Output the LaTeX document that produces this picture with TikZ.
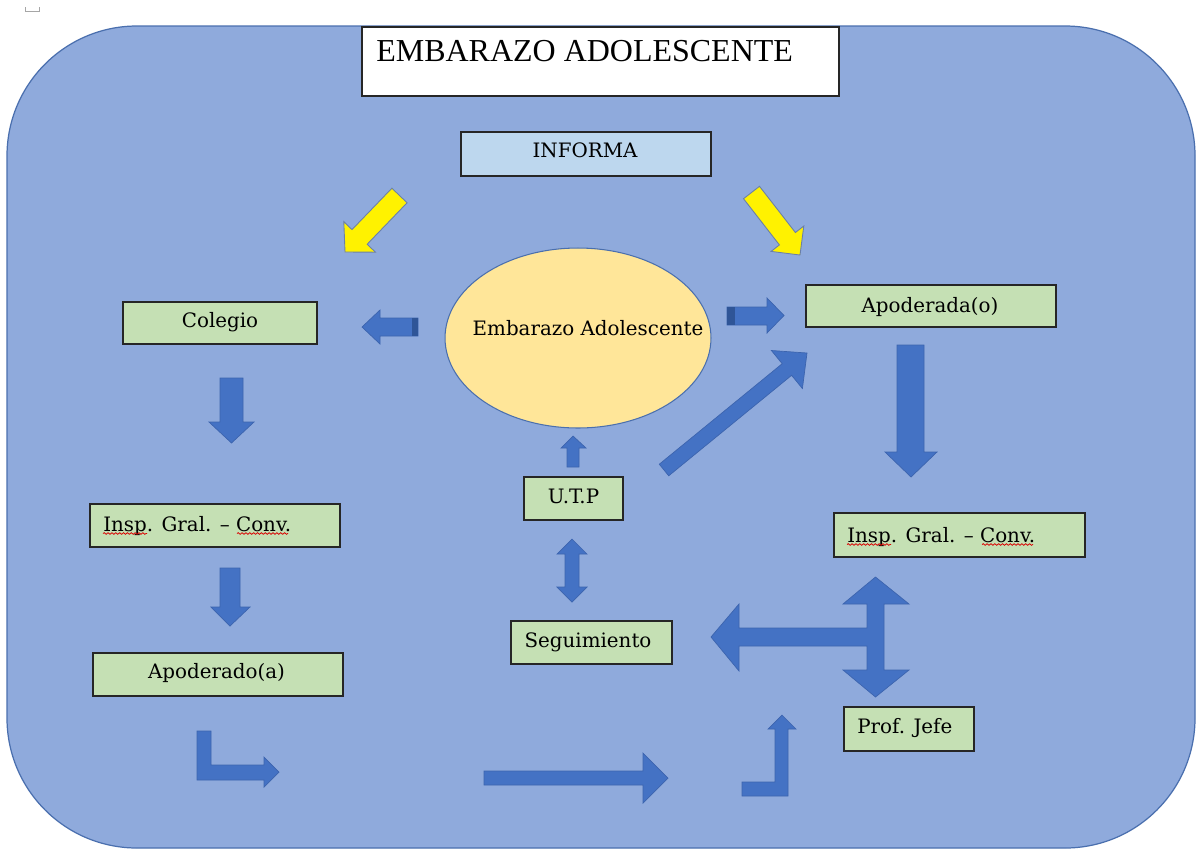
\documentclass[tikz,border=0pt]{standalone}
\usepackage{fontspec}
\setmainfont{DejaVu Serif}
\newfontfamily\titlefont{Liberation Serif}
\usetikzlibrary{decorations.pathmorphing,shapes.geometric}
\definecolor{bgfill}{HTML}{8FAADC}
\definecolor{bgline}{HTML}{4A6FAE}
\definecolor{arrowblue}{HTML}{4472C4}
\definecolor{arrowline}{HTML}{3C64AE}
\definecolor{darkband}{HTML}{2F5597}
\definecolor{boxgreen}{HTML}{C5E0B4}
\definecolor{boxblue}{HTML}{BDD7EE}
\definecolor{ellfill}{HTML}{FFE699}
\definecolor{yelline}{HTML}{6A7FA8}
\tikzset{
  box/.style={draw=black!85, line width=0.8pt, rectangle, inner sep=0pt},
  greenbox/.style={box, fill=boxgreen},
  lbl/.style={font=\fontsize{11.3}{13}\selectfont, inner sep=0pt, text=black},
  blockarrow/.style={fill=arrowblue, draw=arrowline, line width=0.4pt, line join=miter},
  yellowarrow/.style={fill=yellow, draw=yelline, line width=0.5pt},
  spell/.style={draw=red!85!black, line width=0.45pt, decorate, decoration={snake, segment length=2.2pt, amplitude=0.45pt}}
}
\begin{document}
\begin{tikzpicture}[x=0.02cm, y=-0.02cm]
\useasboundingbox (0,0) rectangle (1196,849);
\fill[white] (0,0) rectangle (1196,849);
% tiny mark at top left
\draw[gray!70, line width=0.5pt] (25,7) -- (25,11) -- (39,11) -- (39,7);
% background panel
\draw[fill=bgfill, draw=bgline, line width=0.7pt, rounded corners=2.6cm] (7,26) rectangle (1195,848);

% title
\node[box, fill=white, minimum width=9.54cm, minimum height=1.38cm] (title) at (600.5,61.5) {};
\node[anchor=base west, inner sep=0pt, font=\titlefont\fontsize{18.2}{20}\selectfont] (titletext) at (376,61) {EMBARAZO ADOLESCENTE};

% informa
\node[box, fill=boxblue, minimum width=5.0cm, minimum height=0.88cm] (informa) at (586,154) {};
\node[lbl, anchor=base] (informatext) at (585,157) {INFORMA};

% ellipse
\node[ellipse, draw=bgline, line width=0.6pt, fill=ellfill, minimum width=5.32cm, minimum height=3.6cm, inner sep=0pt] (emb) at (578,338) {};
\node[lbl, anchor=base] (embtext) at (588,335) {Embarazo Adolescente};

% green boxes
\node[greenbox, minimum width=3.88cm, minimum height=0.84cm] (colegio) at (220,323) {};
\node[lbl, anchor=base] (colegiotext) at (220,327) {Colegio};

\node[greenbox, minimum width=5.0cm, minimum height=0.84cm] (apoo) at (931,306) {};
\node[lbl, anchor=base] (apootext) at (930,312) {Apoderada(o)};

\node[greenbox, minimum width=5.0cm, minimum height=0.86cm] (inspl) at (215,525.5) {};
\node[lbl, anchor=base west] (inspltext) at (103,531) {Insp. Gral. – Conv.};
\draw[spell] (103,533.5) -- (147,533.5);
\draw[spell] (237,533.5) -- (288,533.5);

\node[greenbox, minimum width=5.0cm, minimum height=0.86cm] (apoa) at (218,674.5) {};
\node[lbl, anchor=base] (apoatext) at (216.5,678) {Apoderado(a)};

\node[greenbox, minimum width=1.98cm, minimum height=0.86cm] (utp) at (573.5,498.5) {};
\node[lbl, anchor=base] (utptext) at (573.5,503) {U.T.P};

\node[greenbox, minimum width=3.22cm, minimum height=0.86cm] (seg) at (591.5,642.5) {};
\node[lbl, anchor=base] (segtext) at (588,647) {Seguimiento};

\node[greenbox, minimum width=5.02cm, minimum height=0.88cm] (inspr) at (959.5,535) {};
\node[lbl, anchor=base west] (insprtext) at (847,542) {Insp. Gral. – Conv.};
\draw[spell] (847,544.5) -- (891,544.5);
\draw[spell] (982,544.5) -- (1033,544.5);

\node[greenbox, minimum width=2.6cm, minimum height=0.88cm] (prof) at (909,729) {};
\node[lbl, anchor=base west] (proftext) at (857,733) {Prof. Jefe};

% yellow arrows
\draw[yellowarrow] (391.9,188.2) -- (352.0,229.6) -- (343.8,221.6) -- (345,252) -- (375.4,252.2) -- (367.2,244.2) -- (407.1,202.8) -- cycle;
\draw[yellowarrow] (759.5,186.3) -- (795.4,232.5) -- (803.8,226.0) -- (800,255) -- (771.1,251.4) -- (779.4,244.9) -- (743.5,198.7) -- cycle;

% small horizontal arrows beside ellipse
\draw[blockarrow] (418,318) -- (380,318) -- (380,310) -- (362,327) -- (380,344) -- (380,336) -- (418,336) -- cycle;
\fill[darkband] (412,318.3) rectangle (417.8,335.7);
\draw[blockarrow] (727,307) -- (767,307) -- (767,298) -- (784,315.5) -- (767,333) -- (767,325) -- (727,325) -- cycle;
\fill[darkband] (727.2,307.3) rectangle (735,324.7);

% diagonal arrow UTP -> Apoderada
\draw[blockarrow] (659.3,464.2) -- (782.2,363.7) -- (771.4,350.5) -- (807,353) -- (802.4,388.5) -- (791.6,375.3) -- (668.7,475.8) -- cycle;

% down arrows
\draw[blockarrow] (897,345) -- (924,345) -- (924,452) -- (937,452) -- (911,477) -- (885,452) -- (897,452) -- cycle;
\draw[blockarrow] (220,378) -- (243,378) -- (243,422) -- (254,422) -- (231.5,443) -- (209,422) -- (220,422) -- cycle;
\draw[blockarrow] (220,568) -- (240,568) -- (240,607) -- (250,607) -- (230,626) -- (211,607) -- (220,607) -- cycle;

% UTP up arrow
\draw[blockarrow] (567,467) -- (567,448) -- (561,448) -- (573,436) -- (586,448) -- (579,448) -- (579,467) -- cycle;
% UTP <-> Seguimiento
\draw[blockarrow] (565,554) -- (557,554) -- (572,539) -- (587,554) -- (579,554) -- (579,587) -- (587,587) -- (572,602) -- (557,587) -- (565,587) -- cycle;

% cross arrow
\draw[blockarrow] (867,604) -- (843,604) -- (875.5,577) -- (909,604) -- (884,604) -- (884,670) -- (909,670) -- (875.5,697) -- (843,670) -- (867,670) -- (867,646) -- (739,646) -- (739,671) -- (711,637) -- (739,604) -- (739,628) -- (867,628) -- cycle;

% bottom arrows
\draw[blockarrow] (197,731) -- (211,731) -- (211,765) -- (264,765) -- (264,757) -- (279,772) -- (264,787) -- (264,780) -- (197,780) -- cycle;
\draw[blockarrow] (484,771) -- (643,771) -- (643,753) -- (668,778) -- (643,803) -- (643,785) -- (484,785) -- cycle;
\draw[blockarrow] (742,782) -- (775,782) -- (775,729) -- (768,729) -- (782,715) -- (796,729) -- (788,729) -- (788,796) -- (742,796) -- cycle;
\end{tikzpicture}
\end{document}
